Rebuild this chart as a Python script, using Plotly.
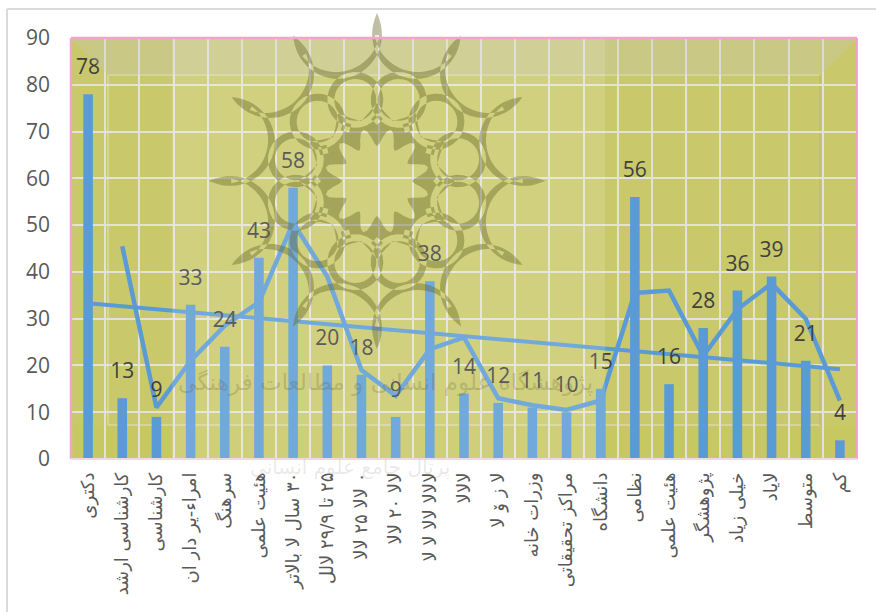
import numpy as np
import plotly.graph_objects as go

RLM = "\u200f"
categories = ["دکتری", "کارشناسی ارشد", "کارشناسی", "امراء-یر دار ان", "سرهنگ", "هئیت علمی",
              RLM + "۳۰ سال لا بالاتر", RLM + "۲۵ تا ۲۹/۹ لالل", RLM + "۰ لالا ۲۵ لالا", RLM + "لالا ۲۰ لالا",
              "لالالا لالا لا لا", "لالالا", "لا ز ۆ لا", "وزرات خانه", "مراکز تحقیقاتی",
              "دانشگاه", "نظامی", "هئیت علمی", "پژوهشگر", "خیلی زیاد", "لایاد", "متوسط", "کم"]
values = [78, 13, 9, 33, 24, 43, 58, 20, 18, 9, 38, 14, 12, 11, 10, 15, 56, 16, 28, 36, 39, 21, 4]
moving_avg = [45.5, 11, 21, 28.5, 33.5, 50.5, 39, 19, 13.5, 23.5, 26, 13, 11.5, 10.5, 12.5,
              35.5, 36, 22, 32, 37.5, 30, 12.5]
trend_y = [33.3, 19.2]
y_ticks = [0, 10, 20, 30, 40, 50, 60, 70, 80, 90]

positions = list(range(1, len(values) + 1))
BLUE = "#5B9BD5"
L, R, T, B = 71, 857, 38, 459
W, H = 876, 612
def px(x): return (x - L) / (R - L)
def py(y): return (B - y) / (B - T)

def poly(pts):
    return "M" + "L".join(f"{px(x):.4f},{py(y):.4f}" for x, y in pts) + "Z"

def orient(pts, positive=True):
    a = sum(pts[i][0] * pts[(i + 1) % len(pts)][1] - pts[(i + 1) % len(pts)][0] * pts[i][1]
            for i in range(len(pts)))
    return pts if (a > 0) == positive else pts[::-1]

def solid(pts): return poly(orient(pts, True))
def hole(pts): return poly(orient(pts, False))

def rect(x0, y0, x1, y1, color, op=1.0, layer="below"):
    return dict(type="rect", xref="paper", yref="paper", x0=px(x0), x1=px(x1), y0=py(y0), y1=py(y1),
                fillcolor=color, opacity=op, line_width=0, layer=layer)

def line(x0, y0, x1, y1, color, w=2, layer="above"):
    return dict(type="line", xref="paper", yref="paper", x0=px(x0), x1=px(x1), y0=py(y0), y1=py(y1),
                line=dict(color=color, width=w), layer=layer)

# watermark emblem, all in one path so overlaps do not darken
CX, CY = 377, 181
def P(r, deg):
    a = np.radians(deg)
    return CX + r * np.sin(a), CY - r * np.cos(a)

def circle(cx, cy, r):
    t = np.linspace(0, 2 * np.pi, 28)[:-1]
    return [(cx + r * np.cos(a), cy + r * np.sin(a)) for a in t]

def arc_side(mid, ths):
    c = P(158, mid)
    inward = np.radians(mid + 180)
    pts = []
    for th in ths:
        a = inward + np.radians(th)
        pts.append((c[0] + 43.7 * np.sin(a), c[1] - 43.7 * np.cos(a)))
    return pts

def crescent(mid):
    c = P(158, mid)
    inward = np.radians(mid + 180)
    outer, inner = [], []
    for th in np.linspace(-96, 96, 33):
        a = inward + np.radians(th)
        fade = max(np.cos(np.radians(th) * 0.94), 0) ** 1.3
        inner.append((c[0] + 43.7 * np.sin(a), c[1] - 43.7 * np.cos(a)))
        r = 43.7 + 7 * fade
        outer.append((c[0] + r * np.sin(a), c[1] - r * np.cos(a)))
    return outer + inner[::-1]

def spike(d):
    ths = np.linspace(96, 66, 10)
    side_a = arc_side(d + 15, ths)
    side_b = arc_side(d - 15, -ths)
    return side_a + side_b[::-1]

def emblem():
    parts = []
    for k in range(12):
        mid = k * 30 + 15
        parts.append(solid(crescent(mid)))
        parts.append(solid(spike(k * 30)))
        c = P(84, mid)
        parts.append(solid(circle(c[0], c[1], 28)) + hole(circle(c[0], c[1], 21)))
    star, flower = [], []
    for k in range(48):
        star.append(P(78 if k % 4 == 0 else (62 if k % 4 == 2 else 68), k * 7.5))
    for k in range(96):
        d = k * 3.75
        flower.append(P(44 - 9 * np.cos(np.radians(d * 12)), d))
    s = solid(star) + hole(flower)
    for k in range(12):
        t = np.radians(k * 30)
        c = P(62, k * 30)
        s += hole([P(68, k * 30), (c[0] - 6 * np.cos(t), c[1] - 6 * np.sin(t)),
                   P(56, k * 30), (c[0] + 6 * np.cos(t), c[1] + 6 * np.sin(t))])
    parts.append(s)
    return "".join(parts)

shapes = [
    rect(71, 38, 857, 459, "#C9C96B"),
    rect(71, 425, 857, 459, "#C8C862", 0.8),
    line(108, 75, 820, 75, "#D8D8A8", 1.5, "below"),
    line(108, 425, 820, 425, "#D8D8A8", 1.5, "below"),
    line(108, 75, 108, 425, "#D8D8A8", 1.5, "below"),
    line(820, 75, 820, 425, "#BDBD78", 1.5, "below"),
    dict(type="path", xref="paper", yref="paper", layer="above", line_width=0,
         path=poly([(71, 38), (857, 38), (820, 75), (108, 75)]), fillcolor="#C8C8C8", opacity=0.28),
    rect(172, 38, 605, 459, "#FFFFFF", 0.14, "above"),
    dict(type="path", xref="paper", yref="paper", layer="above", line_width=0,
         path=emblem(), fillcolor="#66662A", opacity=0.42),
    line(71, 38, 857, 38, "#F6A3CC", 2.5),
    line(71, 38, 71, 459, "#F6A3CC", 2.5),
    line(857, 38, 857, 459, "#F6A3CC", 2),
    line(71, 459, 857, 459, "#F0D8E2", 2),
    line(7, 9, 876, 9, "#DADADA", 2),
    line(7, 9, 7, 612, "#DADADA", 2),
]

fig = go.Figure()
fig.add_bar(x=positions, y=values, width=0.28, marker=dict(color=BLUE, line_width=0), showlegend=False)
fig.add_scatter(x=positions[1:], y=moving_avg, mode="lines", line=dict(color=BLUE, width=4.5), showlegend=False)
fig.add_scatter(x=[positions[0], positions[-1]], y=trend_y, mode="lines", line=dict(color=BLUE, width=4), showlegend=False)
fig.add_scatter(x=positions, y=[v + 5.4 for v in values], mode="text", text=[str(v) for v in values],
                textposition="middle center", textfont=dict(size=21, color="#404040", family="Open Sans"),
                showlegend=False, cliponaxis=False)

fig.update_layout(
    width=W, height=H, autosize=False,
    margin=dict(l=L, r=W - R, t=T, b=H - B, pad=0),
    paper_bgcolor="#FFFFFF", plot_bgcolor="#C9C96B",
    shapes=shapes, showlegend=False, bargap=0.7,
    annotations=[
        dict(xref="paper", yref="paper", x=px(385), y=py(398), showarrow=False,
             text="پژوهشگاه علوم انسانی و مطالعات فرهنگی",
             font=dict(size=23, color="rgba(90,90,50,0.24)", family="DejaVu Sans")),
        dict(xref="paper", yref="paper", x=px(350), y=py(482), showarrow=False,
             text="پرتال جامع علوم انسانی",
             font=dict(size=20, color="rgba(120,120,120,0.16)", family="DejaVu Sans")),
    ],
)
fig.update_xaxes(
    range=[0.5, len(values) + 0.5], tickmode="array", tickvals=positions, ticktext=categories,
    tickangle=-90, ticks="", showgrid=False, zeroline=False, showline=False,
    ticklabelstandoff=9,
    tickfont=dict(size=18, color="#595959", family="DejaVu Sans"),
    minor=dict(tickmode="array", tickvals=[p + 0.5 for p in positions[:-1]], showgrid=True,
               gridcolor="#E2E2D8", gridwidth=2, ticks=""),
)
fig.update_yaxes(
    range=[0, 90], tickmode="array", tickvals=y_ticks, ticks="", showline=False, zeroline=False,
    showgrid=True, gridcolor="#E2E2D8", gridwidth=2, ticklabelstandoff=20,
    tickfont=dict(size=21, color="#595959", family="Open Sans"),
)
fig.write_html("out.html", config=dict(displayModeBar=False),
               post_script="document.body.style.margin='0';")
